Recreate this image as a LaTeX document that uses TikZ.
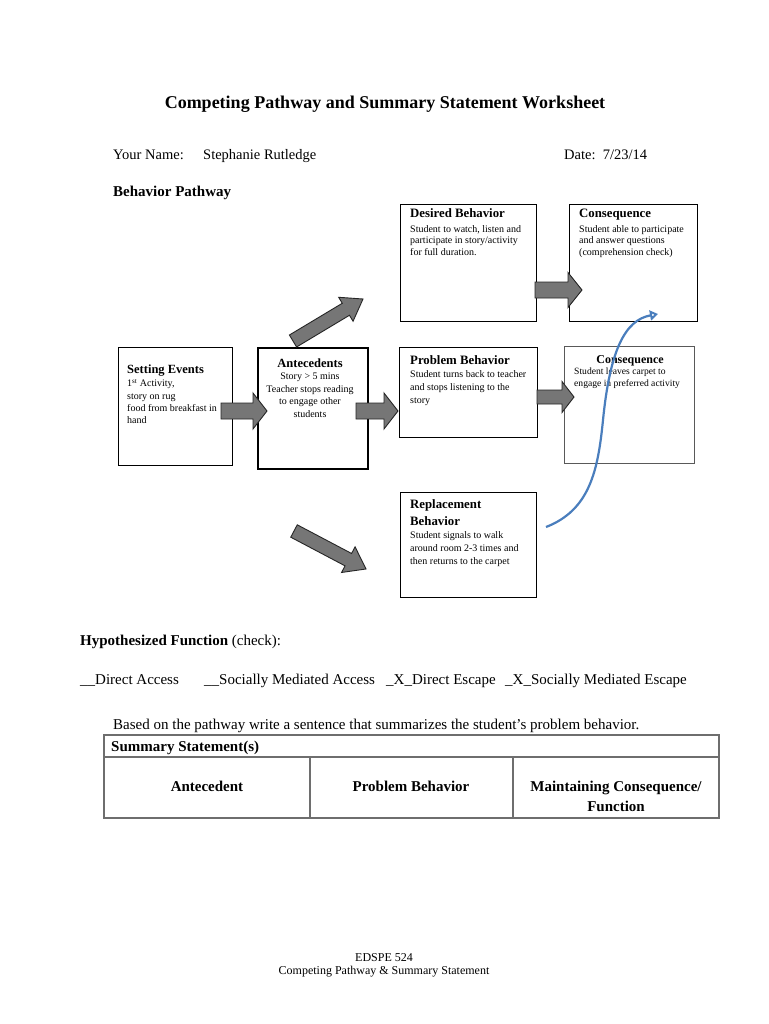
\documentclass[tikz,border=0pt]{standalone}
\usepackage{fontspec}
\setmainfont{Liberation Serif}
\usetikzlibrary{calc,arrows.meta}
\definecolor{curveblue}{RGB}{74,126,189}
\definecolor{arrowgray}{RGB}{118,118,118}
\definecolor{tablegray}{RGB}{110,110,110}
\newcommand\setfs[2]{\fontsize{#1}{#2}\selectfont}
% block arrow: start, end, shaft half width, head half width, head length
\newcommand\blkarrow[5]{%
  \coordinate (tmpH) at ($(#2)!#5!(#1)$);
  \draw[blockarr] ($(#1)!#3!90:(#2)$) -- ($(tmpH)!#3!90:(#2)$) -- ($(tmpH)!#4!90:(#2)$) -- (#2)
     -- ($(tmpH)!#4!-90:(#2)$) -- ($(tmpH)!#3!-90:(#2)$) -- ($(#1)!#3!-90:(#2)$) -- cycle;}
\tikzset{
  box/.style={draw=black, line width=1.3pt, inner sep=0pt, anchor=north west, fill=white},
  txt/.style={inner sep=0pt, anchor=base west},
  ctxt/.style={inner sep=0pt, anchor=base},
  boxtitle/.style={txt, font=\bfseries\setfs{12.8}{15}},
  boxbody/.style={inner sep=0pt, anchor=north west, align=left, font=\setfs{10}{12.3}},
  blockarr/.style={draw=black!85, line width=0.9pt, fill=arrowgray, line join=miter},
  bluecurve/.style={draw=curveblue, line width=2.2pt, -{Triangle[open,length=8pt,width=10pt]}},
}
\begin{document}
\begin{tikzpicture}[x=1pt,y=-1pt]
\path[fill=white, use as bounding box] (0,0) rectangle (768,1024);

% header
\node[ctxt, font=\bfseries\setfs{18}{20}] (title) at (385,109) {Competing Pathway and Summary Statement Worksheet};
\node[txt, font=\setfs{14.5}{16}] (yn) at (113,160) {Your Name:};
\node[txt, font=\setfs{14.5}{16}] (name) at (203,160) {Stephanie Rutledge};
\node[txt, font=\setfs{14.5}{16}] (date) at (564,160) {Date:\ \ 7/23/14};
\node[txt, font=\bfseries\setfs{15}{16}] (bp) at (113,197) {Behavior Pathway};

% boxes
\node[box, minimum width=114pt, minimum height=118pt] (set) at (118,347) {};
\node[box, line width=2pt, minimum width=110pt, minimum height=121pt] (ant) at (257,347) {};
\node[box, minimum width=136pt, minimum height=117pt] (des) at (400,204) {};
\node[box, minimum width=128pt, minimum height=117pt] (con1) at (569,204) {};
\node[box, minimum width=138pt, minimum height=90pt] (prob) at (399,347) {};
\node[box, draw=black!65, line width=1.3pt, minimum width=130pt, minimum height=117pt] (con2) at (564,346) {};
\node[box, minimum width=136pt, minimum height=105pt] (rep) at (400,492) {};

% box texts
\node[boxtitle, font=\bfseries\setfs{12.5}{15}] (set-t) at (127,373) {Setting Events};
\node[boxbody] (set-b) at (127,379) {1\textsuperscript{st} Activity,\\story on rug\\food from breakfast in\\hand};
\node[ctxt, font=\bfseries\setfs{12.5}{15}] (ant-t) at (310,367) {Antecedents};
\node[boxbody, anchor=north, align=center, font=\setfs{10}{12.4}] (ant-b) at (310,373) {Story > 5 mins\\Teacher stops reading\\to engage other\\students};
\node[boxtitle] (des-t) at (410,218) {Desired Behavior};
\node[boxbody, font=\setfs{10}{11.8}] (des-b) at (410,225) {Student to watch, listen and\\participate in story/activity\\for full duration.};
\node[boxtitle] (con1-t) at (579,218) {Consequence};
\node[boxbody, font=\setfs{10}{11.8}] (con1-b) at (579,225) {Student able to participate\\and answer questions\\(comprehension check)};
\node[boxtitle] (prob-t) at (410,364) {Problem Behavior};
\node[boxbody, font=\setfs{10}{13}] (prob-b) at (410,370) {Student turns back to teacher\\and stops listening to the\\story};
\node[ctxt, font=\bfseries\setfs{12}{14}] (con2-t) at (630,363) {Consequence};
\node[boxbody, font=\setfs{9.6}{12}] (con2-b) at (574,368) {Student leaves carpet to\\engage in preferred activity};
\node[boxtitle] (rep-t1) at (410,508) {Replacement};
\node[boxtitle] (rep-t2) at (410,525) {Behavior};
\node[boxbody, font=\setfs{10}{13}] (rep-b) at (410,531) {Student signals to walk\\around room 2-3 times and\\then returns to the carpet};

% block arrows
\coordinate (a1s) at (221,411); \coordinate (a1e) at (267,411);
\coordinate (a2s) at (356,411); \coordinate (a2e) at (398,411);
\coordinate (a3s) at (535,290); \coordinate (a3e) at (582,290);
\coordinate (a4s) at (537,397); \coordinate (a4e) at (574,397);
\coordinate (a5s) at (293,341); \coordinate (a5e) at (363,299);
\coordinate (a6s) at (294,531); \coordinate (a6e) at (366,569);
\blkarrow{a1s}{a1e}{8pt}{18pt}{14pt}
\blkarrow{a2s}{a2e}{8pt}{18pt}{14pt}
\blkarrow{a3s}{a3e}{8pt}{17.5pt}{14pt}
\blkarrow{a4s}{a4e}{7pt}{15.5pt}{12pt}
\blkarrow{a5s}{a5e}{7pt}{14pt}{20pt}
\blkarrow{a6s}{a6e}{7pt}{14.5pt}{20pt}

% blue curve
\coordinate (cs) at (546,527);
\coordinate (cm) at (603,420);
\coordinate (ce) at (658,314);
\draw[bluecurve] (cs) .. controls (590,510) and (598,470) .. (cm) .. controls (610,350) and (625,320) .. (ce);

% hypothesized function
\node[txt, font=\setfs{15}{17}] (hf) at (80,645) {\textbf{Hypothesized Function} (check):};
\node[txt, font=\setfs{15}{17}] (o1) at (80,684) {\_\_Direct Access};
\node[txt, font=\setfs{15}{17}] (o2) at (204,684) {\_\_Socially Mediated Access};
\node[txt, font=\setfs{15}{17}] (o3) at (386,684) {\_X\_Direct Escape};
\node[txt, font=\setfs{15}{17}] (o4) at (505,684) {\_X\_Socially Mediated Escape};
\node[txt, font=\setfs{15}{17}] (based) at (113,729) {Based on the pathway write a sentence that summarizes the student’s problem behavior.};

% table
\draw[tablegray, line width=1.8pt] (104,735) rectangle (719,818);
\draw[tablegray, line width=1.8pt] (104,757) -- (719,757);
\draw[tablegray, line width=1.8pt] (310,757) -- (310,818);
\draw[tablegray, line width=1.8pt] (513,757) -- (513,818);
\node[txt, font=\bfseries\setfs{15}{17}] (ss) at (111,751) {Summary Statement(s)};
\node[ctxt, font=\bfseries\setfs{15}{17}] (c1) at (207,791) {Antecedent};
\node[ctxt, font=\bfseries\setfs{15}{17}] (c2) at (411,791) {Problem Behavior};
\node[ctxt, font=\bfseries\setfs{15}{17}] (c3a) at (616,791) {Maintaining Consequence/};
\node[ctxt, font=\bfseries\setfs{15}{17}] (c3b) at (616,811) {Function};

% footer
\node[ctxt, font=\setfs{12}{14}] (f1) at (384,961) {EDSPE 524};
\node[ctxt, font=\setfs{12}{14}] (f2) at (384,974) {Competing Pathway \& Summary Statement};
\end{tikzpicture}
\end{document}
